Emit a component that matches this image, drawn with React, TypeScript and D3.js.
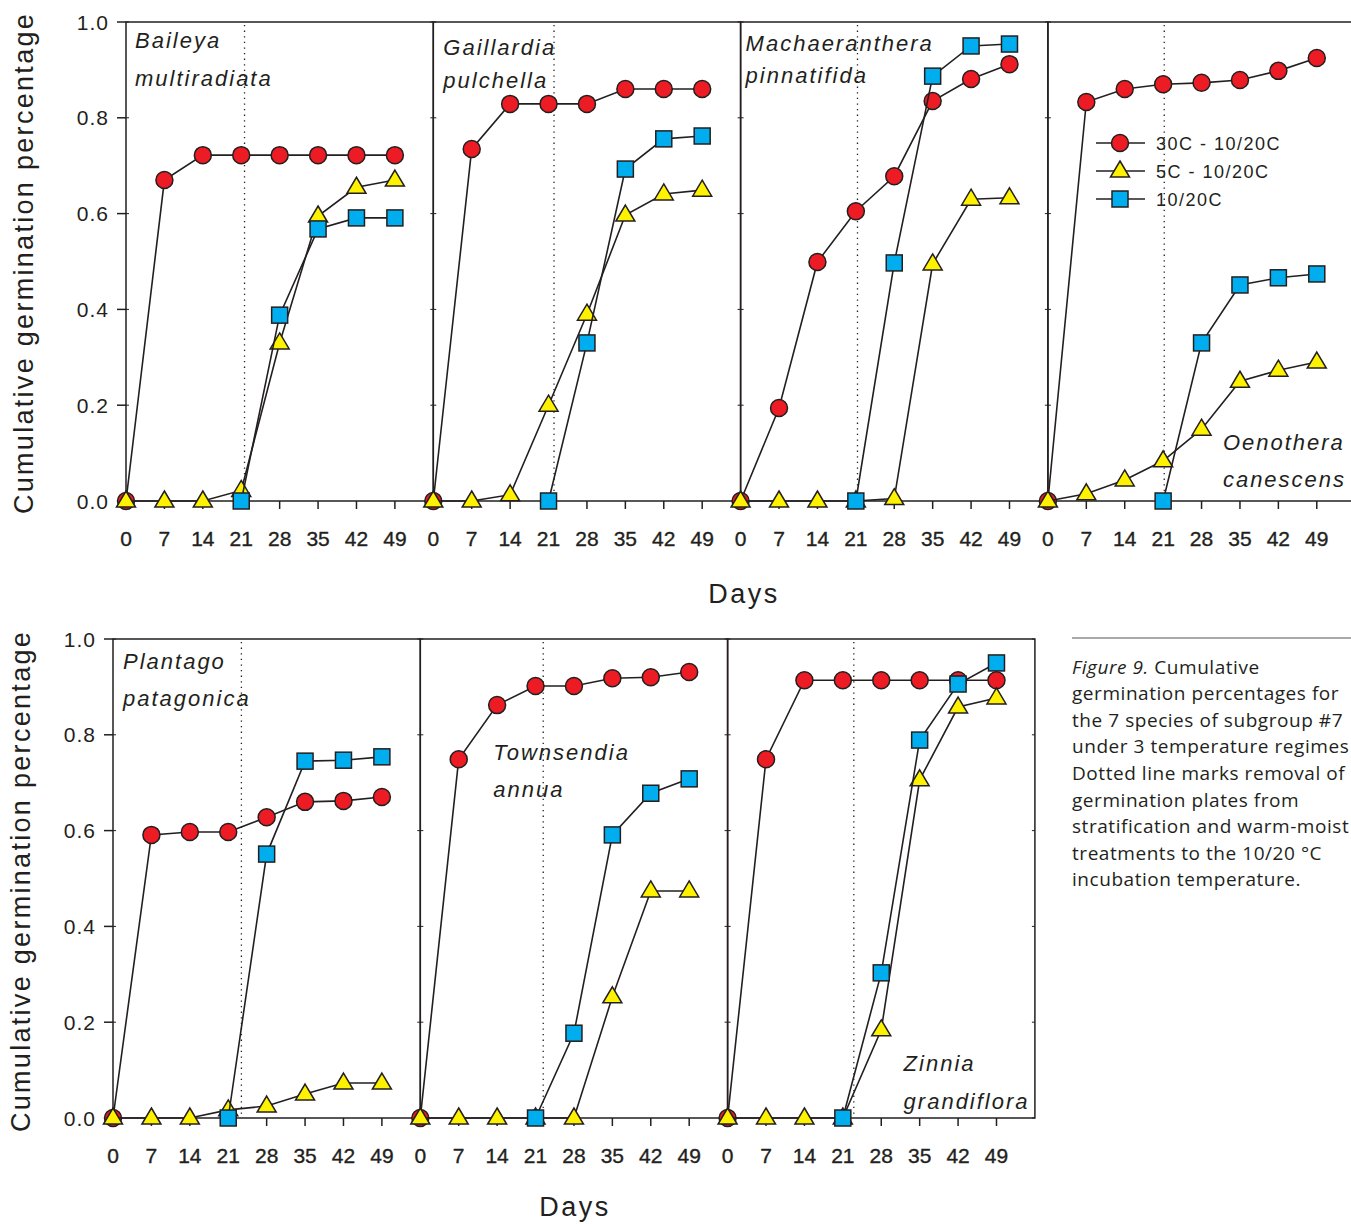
import React from "react";
import * as d3 from "d3";

// ---------- data ----------
const days = [0, 7, 14, 21, 28, 35, 42, 49];
const blueDays = [21, 28, 35, 42, 49];
const xTickLabels = ["0", "7", "14", "21", "28", "35", "42", "49"];
const yTicks = [0, 0.2, 0.4, 0.6, 0.8, 1.0];
const yTickLabels = ["0.0", "0.2", "0.4", "0.6", "0.8", "1.0"];

const speciesLine1 = ["Baileya", "Gaillardia", "Machaeranthera", "Oenothera", "Plantago", "Townsendia", "Zinnia"];
const speciesLine2 = ["multiradiata", "pulchella", "pinnatifida", "canescens", "patagonica", "annua", "grandiflora"];

// 30C - 10/20C (red circles), one row per species
const red30C = [
  [0, 0.67, 0.722, 0.722, 0.722, 0.722, 0.722, 0.722],
  [0, 0.735, 0.829, 0.829, 0.829, 0.86, 0.86, 0.86],
  [0, 0.194, 0.499, 0.605, 0.678, 0.835, 0.881, 0.912],
  [0, 0.833, 0.86, 0.87, 0.873, 0.879, 0.898, 0.925],
  [0, 0.591, 0.597, 0.597, 0.628, 0.66, 0.662, 0.67],
  [0, 0.749, 0.862, 0.902, 0.902, 0.918, 0.92, 0.931],
  [0, 0.749, 0.914, 0.914, 0.914, 0.914, 0.914, 0.914],
];
// 5C - 10/20C (yellow triangles)
const yellow5C = [
  [0, 0, 0, 0.022, 0.33, 0.595, 0.655, 0.67],
  [0, 0, 0.013, 0.2, 0.39, 0.597, 0.641, 0.649],
  [0, 0, 0, 0, 0.005, 0.495, 0.63, 0.633],
  [0, 0.015, 0.044, 0.084, 0.15, 0.25, 0.273, 0.29],
  [0, 0, 0, 0.017, 0.025, 0.05, 0.073, 0.073],
  [0, 0, 0, 0, 0, 0.253, 0.474, 0.474],
  [0, 0, 0, 0, 0.184, 0.706, 0.858, 0.877],
];
// 10/20C (blue squares), from day 21
const blue1020 = [
  [0, 0.388, 0.568, 0.591, 0.591],
  [0, 0.33, 0.693, 0.756, 0.762],
  [0, 0.497, 0.887, 0.95, 0.954],
  [0, 0.33, 0.451, 0.466, 0.474],
  [0, 0.551, 0.745, 0.747, 0.754],
  [0, 0.177, 0.591, 0.678, 0.708],
  [0, 0.303, 0.789, 0.906, 0.95],
];
// day at which the dotted "removal" line is drawn
const removalDay = [21.6, 22, 21.3, 21.2, 23.4, 22.4, 23];

const legendLabels = ["30C - 10/20C", "5C - 10/20C", "10/20C"];

const captionLines = [
  "Cumulative",
  "germination percentages for",
  "the 7 species of subgroup #7",
  "under 3 temperature regimes",
  "Dotted line marks removal of",
  "germination plates from",
  "stratification and warm-moist",
  "treatments to the 10/20 °C",
  "incubation temperature.",
];

// ---------- styling ----------
const RED = "#ED1C24";
const YELLOW = "#FFF200";
const BLUE = "#00AEEF";
const INK = "#231F20";
const FONT = "'Liberation Sans', Arial, sans-serif";

const PANEL_W = 307.3;
const rows = [
  { x0: 126, yTop: 22, yBot: 501, panels: [0, 1, 2, 3] },
  { x0: 113, yTop: 639, yBot: 1118, panels: [4, 5, 6] },
];
// label anchor: [x offset from panel left, y of line1 center, y of line2 center]
const labelPos = [
  [9, 40, 78],
  [10, 47, 80],
  [5, 43, 75],
  [175, 442, 479],
  [10, 661, 698],
  [73, 752, 789],
  [176, 1063, 1101],
];

function Marker({ kind, x, y }: { kind: string; x: number; y: number }) {
  if (kind === "circle")
    return <circle cx={x} cy={y} r={8.5} fill={RED} stroke={INK} strokeWidth={1.5} />;
  if (kind === "tri")
    return (
      <path
        d={`M${x},${y - 10}L${x + 9.5},${y + 6}L${x - 9.5},${y + 6}Z`}
        fill={YELLOW}
        stroke={INK}
        strokeWidth={1.5}
        strokeLinejoin="miter"
      />
    );
  return <rect x={x - 8} y={y - 8} width={16} height={16} fill={BLUE} stroke={INK} strokeWidth={1.5} />;
}

function Panel({ idx, x0, yTop, yBot, first }: { idx: number; x0: number; yTop: number; yBot: number; first: boolean }) {
  const x = d3.scaleLinear().domain([0, 56]).range([x0, x0 + PANEL_W]);
  const y = d3.scaleLinear().domain([0, 1]).range([yBot, yTop]);
  const line = d3
    .line<[number, number]>()
    .x((d) => x(d[0]))
    .y((d) => y(d[1]));
  const redPts = days.map((d, i) => [d, red30C[idx][i]] as [number, number]);
  const yelPts = days.map((d, i) => [d, yellow5C[idx][i]] as [number, number]);
  const bluPts = blueDays.map((d, i) => [d, blue1020[idx][i]] as [number, number]);
  const lp = labelPos[idx];
  return (
    <g>
      {/* frame */}
      <rect x={x0} y={yTop} width={PANEL_W} height={yBot - yTop} fill="none" stroke={INK} strokeWidth={1.5} />
      {/* dotted removal line */}
      <line
        x1={x(removalDay[idx])}
        x2={x(removalDay[idx])}
        y1={yTop + 3}
        y2={yBot}
        stroke={INK}
        strokeWidth={1.3}
        strokeDasharray="1.3,4.3"
      />
      {/* x ticks */}
      {days.map((d, i) => (
        <g key={i}>
          <line x1={x(d)} x2={x(d)} y1={yBot} y2={yBot + 8} stroke={INK} strokeWidth={1.5} />
          <text
            x={x(d)}
            y={yBot + 45}
            textAnchor="middle"
            fontFamily={FONT}
            fontSize={21}
            fill={INK}
            stroke={INK}
            strokeWidth={0.35}
          >
            {xTickLabels[i]}
          </text>
        </g>
      ))}
      {/* small inner y ticks */}
      {yTicks.map((t, i) => (
        <g key={"yt" + i}>
          <line x1={x0} x2={x0 + 3} y1={y(t)} y2={y(t)} stroke={INK} strokeWidth={1} />
          <line x1={x0 + PANEL_W - 3} x2={x0 + PANEL_W} y1={y(t)} y2={y(t)} stroke={INK} strokeWidth={1} />
        </g>
      ))}
      {first &&
        yTicks.map((t, i) => (
          <g key={"y" + i}>
            <line x1={x0 - 9} x2={x0} y1={y(t)} y2={y(t)} stroke={INK} strokeWidth={1.5} />
            <text
              x={x0 - 17}
              y={y(t) + 7.5}
              textAnchor="end"
              fontFamily={FONT}
              fontSize={21}
              letterSpacing={1}
              fill={INK}
            >
              {yTickLabels[i]}
            </text>
          </g>
        ))}
      {/* species label */}
      <text
        x={x0 + lp[0]}
        y={lp[1] + 8}
        fontFamily={FONT}
        fontStyle="italic"
        fontSize={22}
        letterSpacing={2}
        fill={INK}
      >
        {speciesLine1[idx]}
      </text>
      <text
        x={x0 + lp[0]}
        y={lp[2] + 8}
        fontFamily={FONT}
        fontStyle="italic"
        fontSize={22}
        letterSpacing={2}
        fill={INK}
      >
        {speciesLine2[idx]}
      </text>
      {/* series */}
      <path d={line(redPts) || ""} fill="none" stroke={INK} strokeWidth={1.6} />
      {redPts.map((p, i) => (
        <Marker key={"r" + i} kind="circle" x={x(p[0])} y={y(p[1])} />
      ))}
      <path d={line(yelPts) || ""} fill="none" stroke={INK} strokeWidth={1.6} />
      {yelPts.map((p, i) => (
        <Marker key={"t" + i} kind="tri" x={x(p[0])} y={y(p[1])} />
      ))}
      <path d={line(bluPts) || ""} fill="none" stroke={INK} strokeWidth={1.6} />
      {bluPts.map((p, i) => (
        <Marker key={"s" + i} kind="square" x={x(p[0])} y={y(p[1])} />
      ))}
    </g>
  );
}

export default function App() {
  const legendY = [143, 171, 199];
  const legendKinds = ["circle", "tri", "square"];
  return (
    <svg
      width={1351}
      height={1224}
      style={{ position: "absolute", left: 0, top: 0, background: "#fff" }}
    >
      <rect width={1351} height={1224} fill="#fff" />
      {rows.map((r, ri) => (
        <g key={ri}>
          {r.panels.map((p, pi) => (
            <Panel
              key={p}
              idx={p}
              x0={r.x0 + pi * PANEL_W}
              yTop={r.yTop}
              yBot={r.yBot}
              first={pi === 0}
            />
          ))}
          <text
            transform={`translate(${ri === 0 ? 33 : 30},${ri === 0 ? 263 : 881}) rotate(-90)`}
            textAnchor="middle"
            fontFamily={FONT}
            fontSize={27}
            letterSpacing={2.3}
            fill={INK}
          >
            Cumulative germination percentage
          </text>
        </g>
      ))}
      <text x={744} y={603} textAnchor="middle" fontFamily={FONT} fontSize={27} letterSpacing={2.5} fill={INK}>
        Days
      </text>
      <text x={575} y={1216} textAnchor="middle" fontFamily={FONT} fontSize={27} letterSpacing={2.5} fill={INK}>
        Days
      </text>
      {/* legend */}
      {legendLabels.map((l, i) => (
        <g key={l}>
          <line x1={1096} x2={1145} y1={legendY[i]} y2={legendY[i]} stroke={INK} strokeWidth={1.6} />
          <Marker kind={legendKinds[i]} x={1120} y={legendY[i]} />
          <text
            x={1156}
            y={legendY[i] + 6.5}
            fontFamily={FONT}
            fontSize={18}
            letterSpacing={1.5}
            fill={INK}
          >
            {l}
          </text>
        </g>
      ))}
      {/* caption */}
      <line x1={1072} x2={1351} y1={638} y2={638} stroke="#555" strokeWidth={1.2} />
      {captionLines.map((c, i) => (
        <text
          key={i}
          x={1072}
          y={667 + i * 26.6 + 6.5}
          fontFamily="'Open Sans', sans-serif"
          fontSize={19}
          letterSpacing={0.55}
          fill={INK}
        >
          {i === 0 ? (
            <>
              <tspan fontStyle="italic">Figure 9.</tspan> {c}
            </>
          ) : (
            c
          )}
        </text>
      ))}
    </svg>
  );
}
